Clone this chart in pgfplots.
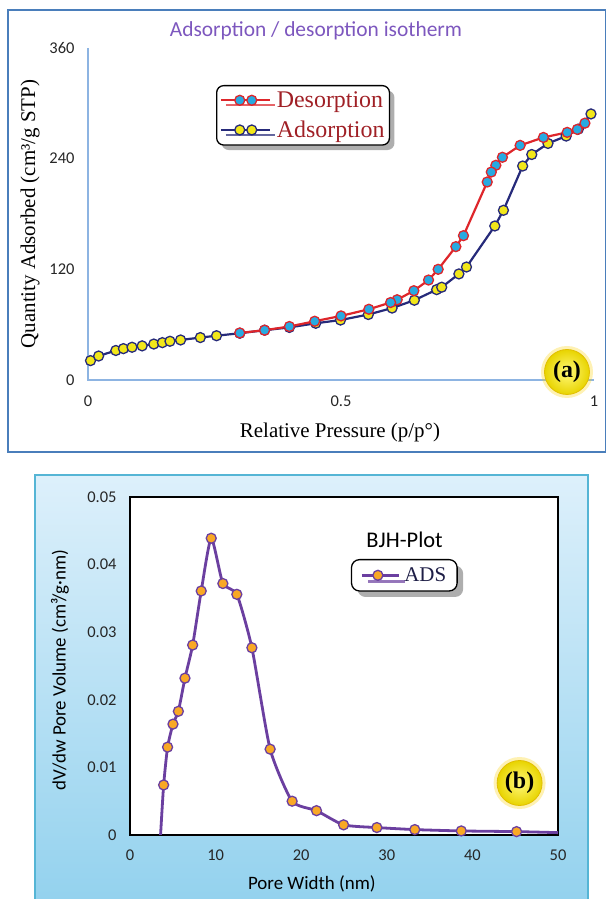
\documentclass[border=0pt]{standalone}
\usepackage{pgfplots}
\pgfplotsset{compat=1.18}
\usepackage{fontspec}
\setmainfont{Liberation Serif}
\setsansfont{Carlito}
\usetikzlibrary{shadows}
\definecolor{topframe}{RGB}{74,126,187}
\definecolor{axisblue}{RGB}{141,180,226}
\definecolor{titlepurple}{RGB}{125,87,190}
\definecolor{desline}{RGB}{222,38,43}
\definecolor{desfill}{RGB}{39,170,225}
\definecolor{adsline}{RGB}{38,42,122}
\definecolor{adsfill}{RGB}{242,231,26}
\definecolor{legred}{RGB}{160,32,38}
\definecolor{bjhline}{RGB}{107,63,160}
\definecolor{bjhfill}{RGB}{249,168,37}
\definecolor{bgtop}{RGB}{221,240,251}
\definecolor{bgbot}{RGB}{148,210,238}
\definecolor{panelborder}{RGB}{85,181,213}
\definecolor{adsnavy}{RGB}{30,30,70}
\definecolor{yin}{RGB}{255,248,120}
\definecolor{yout}{RGB}{232,212,0}
\definecolor{yring}{RGB}{225,190,0}
\pgfplotsset{/pgf/number format/assume math mode=true}
\begin{document}
\begin{tikzpicture}
\path (0bp,0bp) rectangle (607bp,899bp);
% top frame
\draw[topframe, line width=1.5bp] (8bp,889bp) rectangle (605.5bp,447bp);
% bottom panel
\shade[top color=bgtop, bottom color=bgbot] (35bp,424bp) rectangle (588bp,0bp);
\draw[overlay, panelborder, line width=1.5bp] (35bp,-5bp) -- (35bp,424bp) -- (588bp,424bp) -- (588bp,-5bp);

% ---------- top axis ----------
\begin{axis}[at={(88bp,519bp)}, anchor=south west, scale only axis,
  width=506bp, height=332bp, xmin=0, xmax=1, ymin=0, ymax=360,
  axis line style={draw=none},
  xtick={0,0.5,1}, ytick={0,120,240,360}, major tick length=0pt,
  ticklabel style={font=\sffamily\fontsize{16.5}{18}\selectfont, text=black!85},
  yticklabel style={xshift=-10bp},
  xticklabel style={yshift=-12bp},
  clip=false,
  every axis y label/.style={at={(axis description cs:-0.1146,0.5)}, rotate=90, anchor=center, font=\rmfamily\fontsize{21}{24}\selectfont},
  every axis x label/.style={at={(axis description cs:0.498,-0.157)}, anchor=center, font=\rmfamily\fontsize{21}{24}\selectfont},
  ylabel={Quantity Adsorbed (cm³/g STP)},
  xlabel={Relative Pressure (p/p°)},
  reverse legend,
  legend cell align=left,
  legend style={at={(axis description cs:0.253,0.8886)}, anchor=north west,
    draw=black, line width=1.3bp, rounded corners=7bp, fill=white,
    drop shadow={shadow xshift=5bp, shadow yshift=-5bp, fill=black!45, opacity=0.7},
    font=\rmfamily\fontsize{24}{26}\selectfont, text=legred,
    inner xsep=3bp, inner ysep=4bp, row sep=8bp,
    /tikz/every odd column/.append style={column sep=4bp}},
  legend image code/.code={\draw[#1, mark indices={2,3}] plot coordinates {(0bp,0bp) (19bp,0bp) (31bp,0bp) (49bp,0bp)};}
]
\draw[axisblue, line width=1.2bp] (rel axis cs:0,1) -- (rel axis cs:0,0) -- (rel axis cs:1,0);
\addplot[color=adsline, line width=2.2bp, mark=*, mark size=5bp,
  mark options={fill=adsfill, draw=adsline, line width=1.3bp}] coordinates {
(0.005,21) (0.021,26) (0.055,32) (0.070,34) (0.087,35.5) (0.107,37)
(0.130,39) (0.147,40.5) (0.162,42) (0.183,43.4) (0.222,46) (0.254,48)
(0.300,50.7) (0.349,54) (0.398,57) (0.450,61.5) (0.499,65) (0.554,71)
(0.601,78) (0.645,86.5) (0.689,98) (0.699,100.6) (0.733,115) (0.748,122.5)
(0.804,167) (0.821,184) (0.859,232) (0.877,244.5) (0.909,256.5) (0.945,264.5)
(0.969,272) (0.994,288.5)};
\addlegendentry{Adsorption}
\addplot[color=desline, line width=2.2bp, mark=*, mark size=5bp,
  mark options={fill=desfill, draw=desline, line width=1.3bp}] coordinates {
(0.982,278.5) (0.967,271.7) (0.947,268.5) (0.900,263) (0.854,254.4)
(0.819,241.5) (0.806,232.8) (0.797,225.5) (0.789,214.7) (0.742,156.5)
(0.727,144.6) (0.692,120) (0.673,108.4) (0.644,96.8) (0.611,87)
(0.598,84) (0.555,76.7) (0.500,69.5) (0.448,63.7) (0.398,58)
(0.349,54) (0.300,51)};
\addlegendentry{Desorption}
\end{axis}

% ---------- bottom axis ----------
\begin{axis}[at={(130bp,64bp)}, anchor=south west, scale only axis,
  width=428bp, height=338bp, xmin=0, xmax=50, ymin=0, ymax=0.05,
  xtick={0,10,20,30,40,50}, ytick={0,0.01,0.02,0.03,0.04,0.05},
  scaled y ticks=false,
  axis background/.style={fill=white},
  axis line style={black, line width=2bp},
  major tick length=0pt,
  ticklabel style={font=\sffamily\fontsize{16.5}{18}\selectfont, text=black!85},
  yticklabel style={xshift=-10bp, /pgf/number format/fixed, /pgf/number format/precision=2},
  xticklabel style={yshift=-11bp},
  every axis y label/.style={at={(axis description cs:-0.1636,0.488)}, rotate=90, anchor=center, font=\sffamily\fontsize{19}{22}\selectfont},
  every axis x label/.style={at={(axis description cs:0.425,-0.145)}, anchor=center, font=\sffamily\fontsize{19}{22}\selectfont},
  ylabel={dV/dw Pore Volume (cm³/g·nm)},
  xlabel={Pore Width (nm)},
  legend style={at={(axis description cs:0.516,0.8166)}, anchor=north west,
    draw=black, line width=1.3bp, rounded corners=8bp, fill=white,
    drop shadow={shadow xshift=6bp, shadow yshift=-6bp, fill=black!45, opacity=0.7},
    font=\rmfamily\fontsize{21}{23}\selectfont, text=adsnavy,
    inner xsep=9bp, inner ysep=6bp,
    /tikz/every odd column/.append style={column sep=2bp}},
  legend image code/.code={\draw[#1, mark indices={2}] plot coordinates {(0bp,0bp) (16bp,0bp) (37bp,0bp)};}
]
\addplot[color=bjhline, line width=2.8bp, smooth, tension=0.35, mark=*, mark size=5bp,
  mark indices={2,3,4,5,6,7,8,9,10,11,12,13,14,15,16,17,18,19,20},
  mark options={fill=bjhfill, draw=bjhline, line width=1.3bp}] coordinates {
(3.57,0) (3.93,0.0074) (4.39,0.0130) (5.02,0.0164) (5.65,0.0183)
(6.42,0.0232) (7.32,0.0281) (8.32,0.0361) (9.49,0.0439) (10.85,0.0372)
(12.48,0.0356) (14.24,0.0277) (16.37,0.0127) (18.94,0.0050) (21.79,0.0036)
(24.95,0.0015) (28.84,0.0011) (33.27,0.0008) (38.70,0.0006) (45.16,0.0005)
(50,0.00035)};
\addlegendentry{ADS}
\end{axis}

% texts and badges
\node[font=\sffamily\fontsize{21.5}{24}\selectfont, text=titlepurple] at (316bp,868bp) {Adsorption / desorption isotherm};
\node[font=\sffamily\fontsize{22.5}{24}\selectfont] at (404.6bp,359bp) {BJH-Plot};

\fill[yellow!70!orange, opacity=0.3] (567bp,527bp) circle (26bp);
\shade[inner color=yin, outer color=yout] (567bp,527bp) circle (22.5bp);
\draw[yring, line width=0.8bp] (567bp,527bp) circle (22.5bp);
\node[font=\rmfamily\bfseries\fontsize{24}{24}\selectfont] at (567bp,527bp) {(a)};

\fill[yellow!70!orange, opacity=0.3] (519.6bp,116bp) circle (26bp);
\shade[inner color=yin, outer color=yout] (519.6bp,116bp) circle (22.5bp);
\draw[yring, line width=0.8bp] (519.6bp,116bp) circle (22.5bp);
\node[font=\rmfamily\bfseries\fontsize{24}{24}\selectfont] at (519.6bp,116bp) {(b)};
\end{tikzpicture}
\end{document}
